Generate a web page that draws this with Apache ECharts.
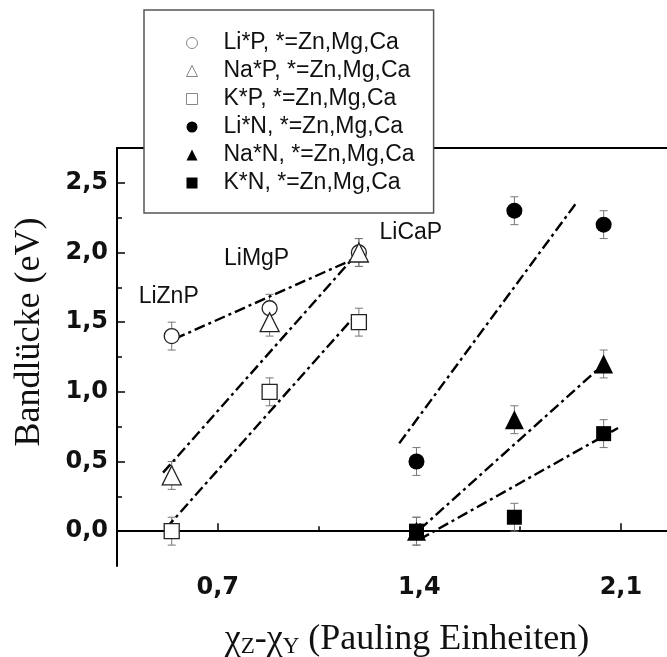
<!DOCTYPE html>
<html>
<head>
<meta charset="utf-8">
<script src="https://cdn.jsdelivr.net/npm/echarts@6/dist/echarts.min.js"></script>
<style>
html,body{margin:0;padding:0;background:#fff;}
#chart{width:667px;height:657px;}
</style>
</head>
<body>
<div id="chart"></div>
<script>
// ---- data ----
const xP = [0.54, 0.88, 1.19];          // Zn, Mg, Ca phosphides
const xN = [1.39, 1.73, 2.04];          // Zn, Mg, Ca nitrides
const liP = [1.4, 1.6, 2.0];
const naP = [0.4, 1.5, 2.0];
const kP  = [0.0, 1.0, 1.5];
const liN = [0.5, 2.3, 2.2];
const naN = [0.0, 0.8, 1.2];
const kN  = [0.0, 0.1, 0.7];
const errBar = 0.1;
const pLabels = ['LiZnP', 'LiMgP', 'LiCaP'];
const seriesNames = ['Li*P, *=Zn,Mg,Ca', 'Na*P, *=Zn,Mg,Ca', 'K*P, *=Zn,Mg,Ca',
                     'Li*N, *=Zn,Mg,Ca', 'Na*N, *=Zn,Mg,Ca', 'K*N, *=Zn,Mg,Ca'];
// fit line end points
const fitLiP = [[0.55, 1.38], [1.18, 1.96]];
const fitNaP = [[0.51, 0.42], [1.17, 1.96]];
const fitKP  = [[0.52, 0.02], [1.17, 1.53]];
const fitLiN = [[1.33, 0.63], [1.95, 2.37]];
const fitNaN = [[1.40, 0.01], [2.03, 1.18]];
const fitKN  = [[1.40, -0.06], [2.09, 0.74]];
// axes
const xMin = 0.35, xMax = 2.26;
const yMin = -0.25, yMax = 2.75;
const xTickMajor = [0.7, 1.4, 2.1];
const xTickMinor = [1.05, 1.75];
const yTickMajor = [0, 0.5, 1.0, 1.5, 2.0, 2.5];
const yTickMinor = [0.25, 0.75, 1.25, 1.75, 2.25];
const xName = ['χ', 'Z', '-χ', 'Y', ' (Pauling Einheiten)'];
const yName = 'Bandlücke (eV)';

// ---- styling ----
const SANS = 'Liberation Sans, Arial, sans-serif';
const TICKFONT = 'DejaVu Sans, Liberation Sans, sans-serif';
const SERIF = 'Liberation Serif, Times New Roman, serif';
const dashDot = [11, 4, 3, 4];
const labelOffsets = [[-3, -39], [-13, -50], [52, -20]];

function pts(xs, ys) { return xs.map((x, i) => [x, ys[i]]); }
function errPts(xs, ys) { return xs.map((x, i) => [x, ys[i], errBar]); }
const comma = v => v.toFixed(1).replace('.', ',');

const hollow = { color: '#fff', borderColor: '#222', borderWidth: 1.3, opacity: 1 };
const filled = { color: '#000', borderColor: '#000', borderWidth: 0, opacity: 1 };
const sets = [
  { name: seriesNames[0], xs: xP, ys: liP, symbol: 'circle', size: 15, style: hollow },
  { name: seriesNames[1], xs: xP, ys: naP, symbol: 'triangle', size: 19, style: hollow },
  { name: seriesNames[2], xs: xP, ys: kP,  symbol: 'rect', size: 15, style: hollow },
  { name: seriesNames[3], xs: xN, ys: liN, symbol: 'circle', size: 16, style: filled },
  { name: seriesNames[4], xs: xN, ys: naN, symbol: 'triangle', size: 19, style: filled },
  { name: seriesNames[5], xs: xN, ys: kN,  symbol: 'rect', size: 15, style: filled }
];
const fits = [fitLiP, fitNaP, fitKP, fitLiN, fitNaN, fitKN];

const series = [];
// error bars
sets.forEach(s => {
  series.push({
    type: 'custom', xAxisIndex: 0, yAxisIndex: 0, z: 1, silent: true,
    data: errPts(s.xs, s.ys),
    renderItem: (params, api) => {
      const x = api.value(0), y = api.value(1), e = api.value(2);
      const t = api.coord([x, y + e]), b = api.coord([x, y - e]);
      const w = 4;
      const st = { stroke: '#777', lineWidth: 1, fill: null };
      return { type: 'group', children: [
        { type: 'line', shape: { x1: t[0], y1: t[1], x2: b[0], y2: b[1] }, style: st },
        { type: 'line', shape: { x1: t[0] - w, y1: t[1], x2: t[0] + w, y2: t[1] }, style: st },
        { type: 'line', shape: { x1: b[0] - w, y1: b[1], x2: b[0] + w, y2: b[1] }, style: st }
      ]};
    }
  });
});
// fit lines
fits.forEach(f => {
  series.push({
    type: 'line', xAxisIndex: 0, yAxisIndex: 0, z: 2, silent: true,
    data: f, symbol: 'none', animation: false,
    lineStyle: { color: '#000', width: 2.4, type: dashDot }
  });
});
// symbols
sets.forEach((s, k) => {
  const data = pts(s.xs, s.ys).map((p, i) => {
    const item = { value: p };
    if (k === 0) {
      item.label = { show: true, formatter: pLabels[i], position: 'inside',
        offset: labelOffsets[i], fontFamily: SANS, fontSize: 23, color: '#111' };
    }
    return item;
  });
  series.push({
    type: 'scatter', name: s.name, xAxisIndex: 0, yAxisIndex: 0, z: 3,
    symbol: s.symbol, symbolSize: s.size, data: data,
    itemStyle: s.style, animation: false
  });
});

const chart = echarts.init(document.getElementById('chart'), null, { renderer: 'canvas' });
const axisLine = { show: true, lineStyle: { color: '#000', width: 2 } };
const option = {
  backgroundColor: '#fff',
  animation: false,
  grid: { left: 117, top: 148, bottom: 91, right: 0, containLabel: false, outerBoundsMode: 'none' },
  legend: {
    orient: 'vertical', left: 144, top: 10,
    padding: [19, 19, 16, 42],
    itemWidth: 11, itemHeight: 11, itemGap: 0,
    backgroundColor: '#fff', borderColor: '#555', borderWidth: 1.5,
    textStyle: { fontFamily: SANS, fontSize: 23, color: '#111', lineHeight: 28, padding: [0, 0, 0, 21] },
    data: seriesNames.map((n, i) => ({
      name: n,
      itemStyle: i < 3 ? { color: '#fff', borderColor: '#888', borderWidth: 1 } : { color: '#000' }
    }))
  },
  xAxis: [
    { type: 'value', min: xMin, max: xMax, position: 'bottom', axisLine: axisLine,
      axisTick: { show: true, inside: true, length: 5, lineStyle: { color: '#000', width: 1.5 }, customValues: xTickMinor },
      axisLabel: { show: false }, splitLine: { show: false } },
    { type: 'value', min: xMin, max: xMax, position: 'bottom', axisLine: { show: false },
      axisTick: { show: true, inside: true, length: 8, lineStyle: { color: '#000', width: 1.5 }, customValues: xTickMajor },
      axisLabel: { show: true, customValues: xTickMajor, formatter: comma, margin: 10,
        fontFamily: TICKFONT, fontSize: 24, fontWeight: 'bold', color: '#111' },
      splitLine: { show: false },
      name: '',
      nameLocation: 'middle', nameGap: 55,
      nameTextStyle: {
        fontFamily: SERIF, fontSize: 36, color: '#111', padding: [0, 0, 0, 30],
        rich: {
          a: { fontFamily: SERIF, fontSize: 36, color: '#111' },
          s: { fontFamily: SERIF, fontSize: 23, color: '#111', padding: [14, 0, 0, 0] }
        }
      }
    },
    { type: 'value', min: xMin, max: xMax, position: 'top', axisLine: axisLine,
      axisTick: { show: false }, axisLabel: { show: false }, splitLine: { show: false } }
  ],
  yAxis: [
    { type: 'value', min: yMin, max: yMax, position: 'left', axisLine: axisLine,
      axisTick: { show: true, inside: true, length: 5, lineStyle: { color: '#000', width: 1.5 }, customValues: yTickMinor },
      axisLabel: { show: false }, splitLine: { show: false } },
    { type: 'value', min: yMin, max: yMax, position: 'left', axisLine: { show: false },
      axisTick: { show: true, inside: true, length: 8, lineStyle: { color: '#000', width: 1.5 }, customValues: yTickMajor },
      axisLabel: { show: true, customValues: yTickMajor, formatter: comma, margin: 9,
        fontFamily: TICKFONT, fontSize: 24, fontWeight: 'bold', color: '#111' },
      splitLine: { show: false },
      name: yName, nameLocation: 'middle', nameGap: 69,
      nameTextStyle: { fontFamily: SERIF, fontSize: 36, color: '#111', padding: [0, 0, 0, 50] }
    }
  ],
  series: series
};
// rich x-axis name
option.xAxis[1].name = '{a|' + xName[0] + '}{s|' + xName[1] + '}{a|' + xName[2] + '}{s|' + xName[3] + '}{a|' + xName[4] + '}';
chart.setOption(option);
</script>
</body>
</html>
